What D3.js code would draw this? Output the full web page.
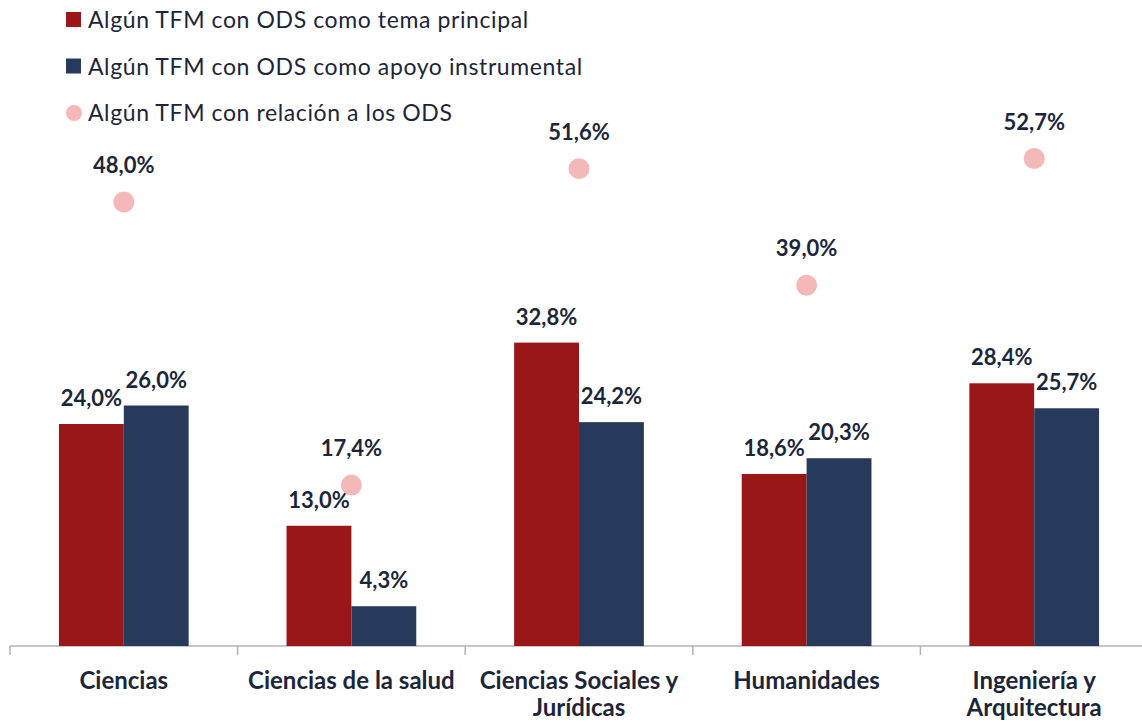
<!DOCTYPE html>
<html>
<head>
<meta charset="utf-8">
<script src="https://cdn.jsdelivr.net/npm/d3@7"></script>
<style>
  body { margin: 0; background: #fff; }
  svg { display: block; font-family: Lato, "Open Sans", sans-serif; }
</style>
</head>
<body>
<div id="chart"></div>
<script>
const categories = ['Ciencias', 'Ciencias de la salud', 'Ciencias Sociales y Jurídicas', 'Humanidades', 'Ingeniería y Arquitectura'];
const categoryLines = [['Ciencias'], ['Ciencias de la salud'], ['Ciencias Sociales y', 'Jurídicas'], ['Humanidades'], ['Ingeniería y', 'Arquitectura']];
const temaPrincipal = [24.0, 13.0, 32.8, 18.6, 28.4];
const apoyoInstrumental = [26.0, 4.3, 24.2, 20.3, 25.7];
const relacionODS = [48.0, 17.4, 51.6, 39.0, 52.7];
const legendLabels = ['Algún TFM con ODS como tema principal', 'Algún TFM con ODS como apoyo instrumental', 'Algún TFM con relación a los ODS'];

const width = 1142;
const height = 725;
const red = '#9a1719';
const navy = '#273a5b';
const pink = '#f5b8b8';
const textColor = '#1c263a';
const fmt = v => v.toFixed(1).replace('.', ',') + '%';

const svg = d3.select('#chart').append('svg')
  .attr('width', width)
  .attr('height', height);

const x = d3.scaleBand()
  .domain(categories)
  .range([10, 1148])
  .paddingInner(0)
  .paddingOuter(0);

const x1 = d3.scaleBand()
  .domain(['tema', 'apoyo'])
  .range([x.bandwidth() * 0.215, x.bandwidth() * 0.785]);

const y = d3.scaleLinear()
  .domain([0, 60])
  .range([646, 91]);

const rows = categories.map((c, i) => ({
  cat: c,
  lines: categoryLines[i],
  tema: temaPrincipal[i],
  apoyo: apoyoInstrumental[i],
  rel: relacionODS[i],
}));

// axis
const axis = svg.append('g').attr('class', 'axis');
axis.append('line')
  .attr('x1', 10).attr('x2', width)
  .attr('y1', y(0)).attr('y2', y(0))
  .attr('stroke', '#b3b3b3').attr('stroke-width', 1.5);
axis.selectAll('.tick')
  .data(categories)
  .enter()
  .append('line')
  .attr('x1', d => x(d)).attr('x2', d => x(d))
  .attr('y1', y(0)).attr('y2', y(0) + 9)
  .attr('stroke', '#b3b3b3').attr('stroke-width', 1.5);

const groups = svg.selectAll('.grp')
  .data(rows)
  .enter()
  .append('g')
  .attr('class', 'grp')
  .attr('transform', d => `translate(${x(d.cat)},0)`);

const series = [
  { key: 'tema', color: red },
  { key: 'apoyo', color: navy },
];

series.forEach(s => {
  groups.append('rect')
    .attr('x', x1(s.key))
    .attr('width', x1.bandwidth())
    .attr('y', d => y(d[s.key]))
    .attr('height', d => y(0) - y(d[s.key]))
    .attr('fill', s.color);

  groups.append('text')
    .attr('x', x1(s.key) + x1.bandwidth() / 2)
    .attr('y', d => y(d[s.key]) - 18)
    .attr('text-anchor', 'middle')
    .attr('font-size', 22)
    .attr('font-weight', 'bold')
    .attr('fill', textColor)
    .text(d => fmt(d[s.key]));
});

groups.append('circle')
  .attr('cx', x.bandwidth() / 2)
  .attr('cy', d => y(d.rel))
  .attr('r', 10.5)
  .attr('fill', pink);

groups.append('text')
  .attr('x', x.bandwidth() / 2)
  .attr('y', d => y(d.rel) - 29)
  .attr('text-anchor', 'middle')
  .attr('font-size', 22)
  .attr('font-weight', 'bold')
  .attr('fill', textColor)
  .text(d => fmt(d.rel));

// category labels
groups.append('text')
  .attr('text-anchor', 'middle')
  .attr('font-size', 24)
  .attr('font-weight', 'bold')
  .attr('fill', textColor)
  .selectAll('tspan')
  .data(d => d.lines)
  .enter()
  .append('tspan')
  .attr('x', x.bandwidth() / 2)
  .attr('y', (d, i) => 689 + i * 27)
  .text(d => d);

// legend
const legend = svg.append('g')
  .selectAll('.leg')
  .data(legendLabels)
  .enter()
  .append('g')
  .attr('transform', (d, i) => `translate(0,${20 + i * 46.5})`);

legend.each(function (d, i) {
  const g = d3.select(this);
  if (i < 2) {
    g.append('rect')
      .attr('x', 66).attr('y', -8)
      .attr('width', 15).attr('height', 15)
      .attr('fill', i === 0 ? red : navy);
  } else {
    g.append('circle')
      .attr('cx', 74).attr('cy', 0)
      .attr('r', 8)
      .attr('fill', pink);
  }
  g.append('text')
    .attr('x', 88)
    .attr('y', 8)
    .attr('font-size', 23)
    .attr('letter-spacing', 0.6)
    .attr('fill', textColor)
    .text(d);
});
</script>
</body>
</html>
